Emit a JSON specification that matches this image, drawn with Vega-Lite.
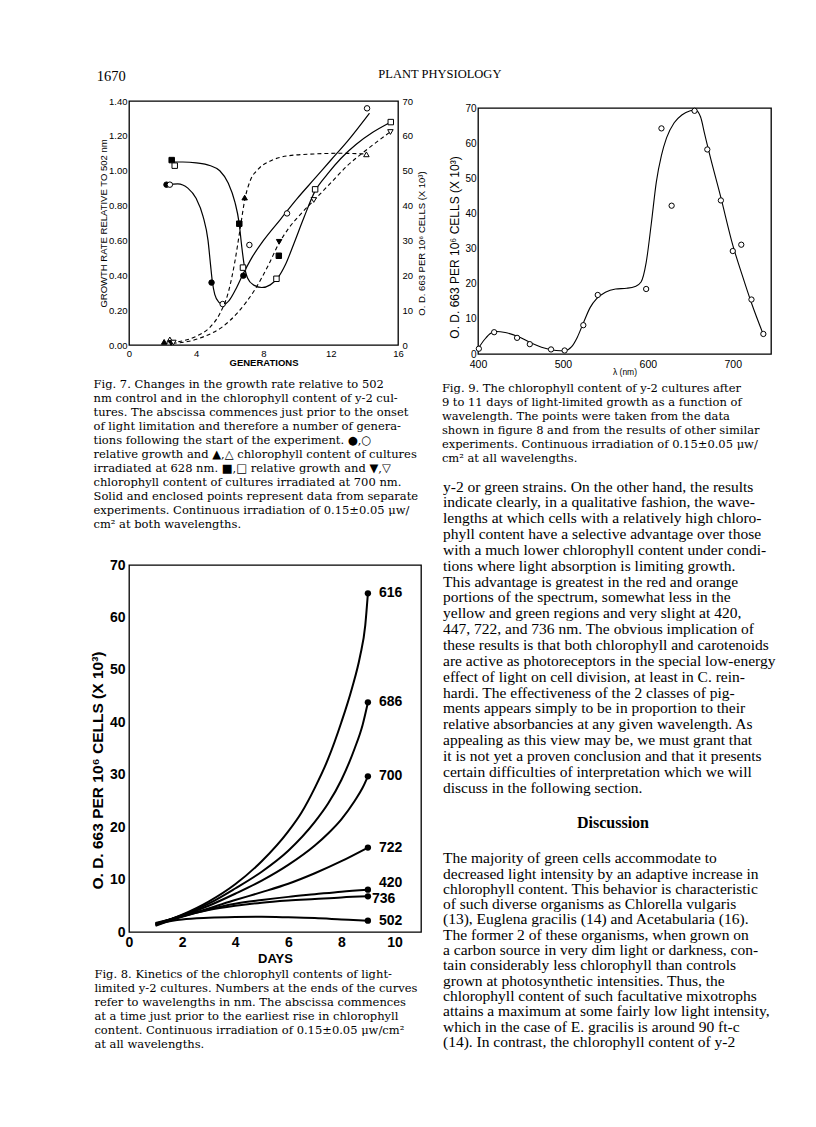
{
  "$schema": "https://vega.github.io/schema/vega-lite/v6.json",
  "background": "white",
  "padding": {"top": 68, "left": 89, "right": 5, "bottom": 5},
  "config": {
    "view": {"stroke": "black", "strokeWidth": 1.3},
    "axis": {"grid": false, "domain": false, "ticks": false, "labelOverlap": false, "labelFlush": false, "labelColor": "black", "titleColor": "black", "labelPadding": 2, "titlePadding": 2},
    "title": {"color": "black"}
  },
  "title": {"text": "PLANT PHYSIOLOGY", "anchor": "middle", "frame": "bounds", "dx": -6.5, "offset": -12, "font": "Liberation Serif", "fontSize": 12.5, "fontWeight": "normal"},
  "datasets": {
    "f7gc": [
      {"wl": "628", "gen": 2.25, "rate": 0.92}, {"wl": "628", "gen": 2.9, "rate": 0.925}, {"wl": "628", "gen": 3.5, "rate": 0.9}, {"wl": "628", "gen": 4.0, "rate": 0.84}, {"wl": "628", "gen": 4.4, "rate": 0.74}, {"wl": "628", "gen": 4.7, "rate": 0.6}, {"wl": "628", "gen": 4.85, "rate": 0.46}, {"wl": "628", "gen": 4.95, "rate": 0.37}, {"wl": "628", "gen": 5.1, "rate": 0.29}, {"wl": "628", "gen": 5.35, "rate": 0.245}, {"wl": "628", "gen": 5.6, "rate": 0.232}, {"wl": "628", "gen": 5.95, "rate": 0.255}, {"wl": "628", "gen": 6.35, "rate": 0.32}, {"wl": "628", "gen": 6.8, "rate": 0.41}, {"wl": "628", "gen": 7.3, "rate": 0.5}, {"wl": "628", "gen": 8.0, "rate": 0.6}, {"wl": "628", "gen": 9.0, "rate": 0.72}, {"wl": "628", "gen": 10.0, "rate": 0.84}, {"wl": "628", "gen": 11.0, "rate": 0.95}, {"wl": "628", "gen": 12.0, "rate": 1.06}, {"wl": "628", "gen": 13.0, "rate": 1.17}, {"wl": "628", "gen": 14.3, "rate": 1.33},
      {"wl": "700", "gen": 2.55, "rate": 1.05}, {"wl": "700", "gen": 3.2, "rate": 1.05}, {"wl": "700", "gen": 4.0, "rate": 1.045}, {"wl": "700", "gen": 4.8, "rate": 1.03}, {"wl": "700", "gen": 5.4, "rate": 1.0}, {"wl": "700", "gen": 5.9, "rate": 0.93}, {"wl": "700", "gen": 6.3, "rate": 0.82}, {"wl": "700", "gen": 6.55, "rate": 0.7}, {"wl": "700", "gen": 6.7, "rate": 0.57}, {"wl": "700", "gen": 6.85, "rate": 0.46}, {"wl": "700", "gen": 7.05, "rate": 0.385}, {"wl": "700", "gen": 7.4, "rate": 0.345}, {"wl": "700", "gen": 7.9, "rate": 0.33}, {"wl": "700", "gen": 8.4, "rate": 0.345}, {"wl": "700", "gen": 8.85, "rate": 0.385}, {"wl": "700", "gen": 9.3, "rate": 0.46}, {"wl": "700", "gen": 9.8, "rate": 0.58}, {"wl": "700", "gen": 10.4, "rate": 0.73}, {"wl": "700", "gen": 11.05, "rate": 0.88}, {"wl": "700", "gen": 11.8, "rate": 0.98}, {"wl": "700", "gen": 12.6, "rate": 1.07}, {"wl": "700", "gen": 13.5, "rate": 1.15}, {"wl": "700", "gen": 14.5, "rate": 1.22}, {"wl": "700", "gen": 15.5, "rate": 1.275}
    ],
    "f7cc": [
      {"wl": "628", "gen": 2.1, "od": 0.5}, {"wl": "628", "gen": 3.0, "od": 1}, {"wl": "628", "gen": 4.0, "od": 2.5}, {"wl": "628", "gen": 4.8, "od": 5}, {"wl": "628", "gen": 5.4, "od": 9}, {"wl": "628", "gen": 5.9, "od": 15}, {"wl": "628", "gen": 6.3, "od": 24}, {"wl": "628", "gen": 6.6, "od": 33}, {"wl": "628", "gen": 6.9, "od": 42}, {"wl": "628", "gen": 7.2, "od": 47}, {"wl": "628", "gen": 7.7, "od": 50.5}, {"wl": "628", "gen": 8.5, "od": 53}, {"wl": "628", "gen": 9.5, "od": 54.3}, {"wl": "628", "gen": 11.0, "od": 54.8}, {"wl": "628", "gen": 12.5, "od": 55}, {"wl": "628", "gen": 14.1, "od": 54.8},
      {"wl": "700", "gen": 2.6, "od": 0.5}, {"wl": "700", "gen": 3.5, "od": 1}, {"wl": "700", "gen": 4.5, "od": 2.5}, {"wl": "700", "gen": 5.5, "od": 5}, {"wl": "700", "gen": 6.5, "od": 9.5}, {"wl": "700", "gen": 7.5, "od": 16}, {"wl": "700", "gen": 8.3, "od": 23}, {"wl": "700", "gen": 8.9, "od": 29}, {"wl": "700", "gen": 9.5, "od": 33.5}, {"wl": "700", "gen": 10.2, "od": 37.5}, {"wl": "700", "gen": 11.0, "od": 41.5}, {"wl": "700", "gen": 12.0, "od": 46.5}, {"wl": "700", "gen": 13.0, "od": 51.5}, {"wl": "700", "gen": 14.0, "od": 55.5}, {"wl": "700", "gen": 15.5, "od": 61}
    ],
    "f7gp": [
      {"wl": "628", "exp": "solid", "gen": 2.23, "rate": 0.92}, {"wl": "628", "exp": "solid", "gen": 4.91, "rate": 0.358}, {"wl": "628", "exp": "solid", "gen": 6.8, "rate": 0.398},
      {"wl": "628", "exp": "open", "gen": 2.43, "rate": 0.92}, {"wl": "628", "exp": "open", "gen": 5.57, "rate": 0.235}, {"wl": "628", "exp": "open", "gen": 7.16, "rate": 0.574}, {"wl": "628", "exp": "open", "gen": 9.4, "rate": 0.755}, {"wl": "628", "exp": "open", "gen": 14.16, "rate": 1.358},
      {"wl": "700", "exp": "solid", "gen": 2.54, "rate": 1.061}, {"wl": "700", "exp": "solid", "gen": 6.56, "rate": 0.696}, {"wl": "700", "exp": "solid", "gen": 8.91, "rate": 0.512},
      {"wl": "700", "exp": "open", "gen": 2.72, "rate": 1.029}, {"wl": "700", "exp": "open", "gen": 6.78, "rate": 0.444}, {"wl": "700", "exp": "open", "gen": 8.77, "rate": 0.38}, {"wl": "700", "exp": "open", "gen": 11.07, "rate": 0.893}, {"wl": "700", "exp": "open", "gen": 15.57, "rate": 1.279}
    ],
    "f7cp": [
      {"wl": "628", "exp": "solid", "gen": 2.09, "od": 0.9}, {"wl": "628", "exp": "solid", "gen": 6.88, "od": 42.3},
      {"wl": "628", "exp": "open", "gen": 2.43, "od": 1.6}, {"wl": "628", "exp": "open", "gen": 14.12, "od": 54.7},
      {"wl": "700", "exp": "solid", "gen": 2.5, "od": 0.6}, {"wl": "700", "exp": "solid", "gen": 8.93, "od": 29.6},
      {"wl": "700", "exp": "open", "gen": 2.64, "od": 0.7}, {"wl": "700", "exp": "open", "gen": 10.99, "od": 41.6}, {"wl": "700", "exp": "open", "gen": 15.55, "od": 61.1}
    ],
    "f9c": [
      {"nm": 400, "od": 1.5}, {"nm": 408, "od": 4.2}, {"nm": 415, "od": 5.9}, {"nm": 422, "od": 6.4}, {"nm": 432, "od": 6.1}, {"nm": 447, "od": 5.0}, {"nm": 462, "od": 3.2}, {"nm": 478, "od": 1.7}, {"nm": 492, "od": 1.0}, {"nm": 502, "od": 0.9}, {"nm": 510, "od": 2.0}, {"nm": 517, "od": 4.8}, {"nm": 524, "od": 8.8}, {"nm": 532, "od": 13.2}, {"nm": 540, "od": 15.8}, {"nm": 550, "od": 17.6}, {"nm": 562, "od": 18.5}, {"nm": 575, "od": 18.7}, {"nm": 585, "od": 19.2}, {"nm": 592, "od": 20.5}, {"nm": 598, "od": 26}, {"nm": 604, "od": 37}, {"nm": 610, "od": 49}, {"nm": 616, "od": 56.5}, {"nm": 622, "od": 61.5}, {"nm": 631, "od": 65.8}, {"nm": 640, "od": 68}, {"nm": 650, "od": 69.2}, {"nm": 656, "od": 69.4}, {"nm": 662, "od": 67.5}, {"nm": 667, "od": 62.5}, {"nm": 672, "od": 57.5}, {"nm": 686, "od": 44.5}, {"nm": 700, "od": 31}, {"nm": 711, "od": 22.5}, {"nm": 722, "od": 14.5}, {"nm": 736, "od": 5.5}
    ],
    "f9p": [
      {"nm": 401, "od": 1.5}, {"nm": 419, "od": 6.2}, {"nm": 446, "od": 4.6}, {"nm": 461, "od": 2.8}, {"nm": 486, "od": 1.3}, {"nm": 502, "od": 1.0}, {"nm": 524, "od": 8.2}, {"nm": 541, "od": 16.8}, {"nm": 598, "od": 18.5}, {"nm": 616, "od": 64.2}, {"nm": 628, "od": 42.2}, {"nm": 655, "od": 69.2}, {"nm": 670, "od": 58.2}, {"nm": 686, "od": 43.7}, {"nm": 700, "od": 29.3}, {"nm": 710, "od": 31.1}, {"nm": 722, "od": 15.5}, {"nm": 736, "od": 5.7}
    ],
    "f8c": [
      {"wl": "616", "day": 1, "od": 1.4}, {"wl": "616", "day": 2, "od": 3.3}, {"wl": "616", "day": 3, "od": 5.8}, {"wl": "616", "day": 4, "od": 9.1}, {"wl": "616", "day": 5, "od": 13.5}, {"wl": "616", "day": 6, "od": 19.2}, {"wl": "616", "day": 6.5, "od": 22.8}, {"wl": "616", "day": 7, "od": 27.5}, {"wl": "616", "day": 7.5, "od": 33}, {"wl": "616", "day": 8, "od": 40}, {"wl": "616", "day": 8.4, "od": 46.5}, {"wl": "616", "day": 8.7, "od": 52.5}, {"wl": "616", "day": 8.9, "od": 58.5}, {"wl": "616", "day": 9, "od": 64.6},
      {"wl": "686", "day": 1, "od": 1.5}, {"wl": "686", "day": 2, "od": 3.2}, {"wl": "686", "day": 3, "od": 5.4}, {"wl": "686", "day": 4, "od": 8.3}, {"wl": "686", "day": 5, "od": 11.5}, {"wl": "686", "day": 6, "od": 15.5}, {"wl": "686", "day": 7, "od": 21}, {"wl": "686", "day": 7.5, "od": 24.5}, {"wl": "686", "day": 8, "od": 29}, {"wl": "686", "day": 8.5, "od": 35}, {"wl": "686", "day": 8.8, "od": 39.5}, {"wl": "686", "day": 9, "od": 43.8},
      {"wl": "700", "day": 1, "od": 1.6}, {"wl": "700", "day": 2, "od": 3.1}, {"wl": "700", "day": 3, "od": 5}, {"wl": "700", "day": 4, "od": 7.3}, {"wl": "700", "day": 5, "od": 9.8}, {"wl": "700", "day": 6, "od": 12.8}, {"wl": "700", "day": 7, "od": 16.5}, {"wl": "700", "day": 7.5, "od": 18.8}, {"wl": "700", "day": 8, "od": 21.5}, {"wl": "700", "day": 8.5, "od": 25}, {"wl": "700", "day": 8.8, "od": 27.5}, {"wl": "700", "day": 9, "od": 29.7},
      {"wl": "722", "day": 1, "od": 1.7}, {"wl": "722", "day": 2, "od": 3}, {"wl": "722", "day": 3, "od": 4.5}, {"wl": "722", "day": 4, "od": 6.1}, {"wl": "722", "day": 5, "od": 7.6}, {"wl": "722", "day": 6, "od": 9.2}, {"wl": "722", "day": 7, "od": 11.2}, {"wl": "722", "day": 8, "od": 13.5}, {"wl": "722", "day": 9, "od": 16.1},
      {"wl": "420", "day": 1, "od": 1.2}, {"wl": "420", "day": 2, "od": 2.9}, {"wl": "420", "day": 3, "od": 4.3}, {"wl": "420", "day": 4, "od": 5.4}, {"wl": "420", "day": 5, "od": 6.1}, {"wl": "420", "day": 6, "od": 6.7}, {"wl": "420", "day": 7, "od": 7.2}, {"wl": "420", "day": 8, "od": 7.7}, {"wl": "420", "day": 9, "od": 8.07},
      {"wl": "736", "day": 1, "od": 1.3}, {"wl": "736", "day": 2, "od": 3}, {"wl": "736", "day": 3, "od": 4.2}, {"wl": "736", "day": 4, "od": 5}, {"wl": "736", "day": 5, "od": 5.6}, {"wl": "736", "day": 6, "od": 6}, {"wl": "736", "day": 7, "od": 6.3}, {"wl": "736", "day": 8, "od": 6.6}, {"wl": "736", "day": 9, "od": 6.8},
      {"wl": "502", "day": 1, "od": 1.6}, {"wl": "502", "day": 2, "od": 2.4}, {"wl": "502", "day": 3, "od": 2.7}, {"wl": "502", "day": 4, "od": 2.85}, {"wl": "502", "day": 5, "od": 2.9}, {"wl": "502", "day": 6, "od": 2.8}, {"wl": "502", "day": 7, "od": 2.65}, {"wl": "502", "day": 8, "od": 2.4}, {"wl": "502", "day": 9, "od": 2.16}
    ],
    "f8e": [
      {"wl": "616", "day": 9, "od": 64.6}, {"wl": "686", "day": 9, "od": 43.8}, {"wl": "700", "day": 9, "od": 29.7}, {"wl": "722", "day": 9, "od": 16.1}, {"wl": "420", "day": 9, "od": 8.07}, {"wl": "736", "day": 9, "od": 6.8}, {"wl": "502", "day": 9, "od": 2.16}
    ]
  },
  "spacing": 14,
  "hconcat": [
    {
      "title": {"text": "1670", "anchor": "start", "dx": 7, "font": "Liberation Serif", "fontSize": 14.5, "fontWeight": "normal", "offset": 11},
      "columns": 1,
      "align": "none",
      "spacing": 25,
      "concat": [
        {
          "width": 269,
          "height": 244,
          "title": {
            "text": [
              "\u2003Fig. 7.  Changes in the growth rate relative to 502",
              "nm control and in the chlorophyll content of y-2 cul-",
              "tures.  The abscissa commences just prior to the onset",
              "of light limitation and therefore a number of genera-",
              "tions following the start of the experiment.  \u25cf,\u25cb",
              "relative growth and \u25b2,\u25b3 chlorophyll content of cultures",
              "irradiated at 628 nm.  \u25a0,\u25a1 relative growth and \u25bc,\u25bd",
              "chlorophyll content of cultures irradiated at 700 nm.",
              "Solid and enclosed points represent data from separate",
              "experiments.  Continuous irradiation of 0.15\u00b10.05 \u03bcw/",
              "cm\u00b2 at both wavelengths."
            ],
            "orient": "bottom", "anchor": "start", "frame": "bounds", "dx": -5, "font": "DejaVu Serif", "fontSize": 11.5, "fontWeight": "normal", "lineHeight": 14, "offset": 12
          },
          "layer": [
            {
              "layer": [
                {
                  "data": {"name": "f7gc"},
                  "mark": {"type": "line", "interpolate": "monotone", "color": "black", "strokeWidth": 1.2},
                  "encoding": {
                    "x": {"field": "gen", "type": "quantitative", "scale": {"domain": [0, 16], "nice": false}, "axis": {"values": [0, 4, 8, 12, 16], "tickCount": 20, "labelOverlap": false, "title": "GENERATIONS", "labelFont": "Liberation Sans", "labelFontSize": 9.5, "labelPadding": 3, "titlePadding": 0, "titleFont": "Liberation Sans", "titleFontSize": 9.5, "titleFontWeight": "bold"}},
                    "y": {"field": "rate", "type": "quantitative", "scale": {"domain": [0, 1.4], "nice": false}, "axis": {"values": [0, 0.2, 0.4, 0.6, 0.8, 1.0, 1.2, 1.4], "tickCount": 20, "labelOverlap": false, "format": ".2f", "title": "GROWTH RATE RELATIVE TO 502 nm", "labelFont": "Liberation Sans", "labelFontSize": 9.5, "titlePadding": 0, "titleFont": "Liberation Sans", "titleFontSize": 9.5, "titleFontWeight": "normal"}},
                    "detail": {"field": "wl", "type": "nominal"}
                  }
                },
                {
                  "data": {"name": "f7gp"},
                  "mark": {"type": "point", "filled": true, "stroke": "black", "strokeWidth": 1, "size": 30, "opacity": 1},
                  "encoding": {
                    "x": {"field": "gen", "type": "quantitative"},
                    "y": {"field": "rate", "type": "quantitative"},
                    "shape": {"field": "wl", "type": "nominal", "scale": {"domain": ["628", "700"], "range": ["circle", "square"]}, "legend": null},
                    "fill": {"field": "exp", "type": "nominal", "scale": {"domain": ["solid", "open"], "range": ["black", "white"]}, "legend": null}
                  }
                }
              ]
            },
            {
              "layer": [
                {
                  "data": {"name": "f7cc"},
                  "mark": {"type": "line", "interpolate": "monotone", "color": "black", "strokeWidth": 1.1, "strokeDash": [4, 3]},
                  "encoding": {
                    "x": {"field": "gen", "type": "quantitative"},
                    "y": {"field": "od", "type": "quantitative", "scale": {"domain": [0, 70], "nice": false}, "axis": {"orient": "right", "values": [0, 10, 20, 30, 40, 50, 60, 70], "tickCount": 20, "labelOverlap": false, "labelPadding": 4, "title": "O. D. 663 PER 10\u2076 CELLS (X 10\u00b3)", "titleAngle": 270, "titleBaseline": "top", "titlePadding": 4, "titleY": 142, "labelFont": "Liberation Sans", "labelFontSize": 9.5, "titleFont": "Liberation Sans", "titleFontSize": 9.5, "titleFontWeight": "normal"}},
                    "detail": {"field": "wl", "type": "nominal"}
                  }
                },
                {
                  "data": {"name": "f7cp"},
                  "mark": {"type": "point", "filled": true, "stroke": "black", "strokeWidth": 1, "size": 30, "opacity": 1},
                  "encoding": {
                    "x": {"field": "gen", "type": "quantitative"},
                    "y": {"field": "od", "type": "quantitative"},
                    "shape": {"field": "wl", "type": "nominal", "scale": {"domain": ["628", "700"], "range": ["triangle-up", "triangle-down"]}, "legend": null},
                    "fill": {"field": "exp", "type": "nominal", "scale": {"domain": ["solid", "open"], "range": ["black", "white"]}, "legend": null}
                  }
                }
              ]
            }
          ],
          "resolve": {"scale": {"y": "independent", "shape": "independent"}}
        },
        {
          "width": 292,
          "height": 367,
          "title": {
            "text": [
              "\u2003Fig. 8.  Kinetics of the chlorophyll contents of light-",
              "limited y-2 cultures.  Numbers at the ends of the curves",
              "refer to wavelengths in nm.  The abscissa commences",
              "at a time just prior to the earliest rise in chlorophyll",
              "content.  Continuous irradiation of 0.15\u00b10.05 \u03bcw/cm\u00b2",
              "at all wavelengths."
            ],
            "orient": "bottom", "anchor": "start", "frame": "bounds", "dx": 4, "font": "DejaVu Serif", "fontSize": 11.5, "fontWeight": "normal", "lineHeight": 14, "offset": 4
          },
          "encoding": {
            "x": {"field": "day", "type": "quantitative", "scale": {"domain": [0, 11], "nice": false}, "axis": {"values": [0, 2, 4, 6, 8, 10], "labelOverlap": false, "title": "DAYS", "labelFont": "Liberation Sans", "labelFontSize": 14, "labelFontWeight": "bold", "labelPadding": 3, "titleFont": "Liberation Sans", "titleFontSize": 13, "titleFontWeight": "bold", "titlePadding": 3}},
            "y": {"field": "od", "type": "quantitative", "scale": {"domain": [0, 70], "nice": false}, "axis": {"values": [0, 10, 20, 30, 40, 50, 60, 70], "labelOverlap": false, "title": "O. D. 663 PER 10\u2076 CELLS (X 10\u00b3)", "titleY": 205, "labelFont": "Liberation Sans", "labelFontSize": 14, "labelFontWeight": "bold", "labelPadding": 4, "titleFont": "Liberation Sans", "titleFontSize": 15.5, "titleFontWeight": "bold", "titlePadding": 4}}
          },
          "layer": [
            {"data": {"name": "f8c"}, "mark": {"type": "line", "interpolate": "monotone", "color": "black", "strokeWidth": 2}, "encoding": {"detail": {"field": "wl", "type": "nominal"}}},
            {"data": {"name": "f8e"}, "mark": {"type": "point", "filled": true, "color": "black", "size": 40, "opacity": 1}},
            {"data": {"name": "f8e"}, "transform": [{"filter": "datum.wl != '420' && datum.wl != '736'"}], "mark": {"type": "text", "align": "left", "baseline": "middle", "dx": 11, "font": "Liberation Sans", "fontSize": 14, "fontWeight": "bold", "color": "black"}, "encoding": {"text": {"field": "wl"}}},
            {"data": {"name": "f8e"}, "transform": [{"filter": "datum.wl == '420'"}], "mark": {"type": "text", "align": "left", "baseline": "middle", "dx": 11, "dy": -7, "font": "Liberation Sans", "fontSize": 14, "fontWeight": "bold", "color": "black"}, "encoding": {"text": {"field": "wl"}}},
            {"data": {"name": "f8e"}, "transform": [{"filter": "datum.wl == '736'"}], "mark": {"type": "text", "align": "left", "baseline": "middle", "dx": 4, "dy": 3, "font": "Liberation Sans", "fontSize": 14, "fontWeight": "bold", "color": "black"}, "encoding": {"text": {"field": "wl"}}}
          ]
        }
      ]
    },
    {
      "columns": 1,
      "align": "none",
      "spacing": 0,
      "concat": [
        {
          "width": 1,
          "height": 1,
          "view": {"stroke": null},
          "data": {"values": []},
          "mark": {"type": "text"},
          "encoding": {}
        },
        {
          "width": 293,
          "height": 246,
          "title": {
            "text": [
              "\u2003Fig. 9.  The chlorophyll content of y-2 cultures after",
              "9 to 11 days of light-limited growth as a function of",
              "wavelength.  The points were taken from the data",
              "shown in figure 8 and from the results of other similar",
              "experiments.  Continuous irradiation of 0.15\u00b10.05 \u03bcw/",
              "cm\u00b2 at all wavelengths."
            ],
            "orient": "bottom", "anchor": "start", "frame": "bounds", "dx": -6.5, "font": "DejaVu Serif", "fontSize": 11.5, "fontWeight": "normal", "lineHeight": 14, "offset": 7
          },
          "encoding": {
            "x": {"field": "nm", "type": "quantitative", "scale": {"domain": [400, 745], "nice": false, "zero": false}, "axis": {"values": [400, 500, 600, 700], "labelOverlap": false, "title": "\u03bb (nm)", "labelFont": "Liberation Sans", "labelFontSize": 10.5, "labelPadding": 5, "titleFont": "Liberation Sans", "titleFontSize": 8.5, "titleFontWeight": "normal", "titlePadding": -2}},
            "y": {"field": "od", "type": "quantitative", "scale": {"domain": [0, 70], "nice": false}, "axis": {"values": [0, 10, 20, 30, 40, 50, 60, 70], "labelOverlap": false, "title": "O. D. 663 PER 10\u2076 CELLS (X 10\u00b3)", "titleY": 139, "labelFont": "Liberation Sans", "labelFontSize": 10, "titleFont": "Liberation Sans", "titleFontSize": 12, "titleFontWeight": "normal", "titlePadding": 3.5}}
          },
          "layer": [
            {"data": {"name": "f9c"}, "mark": {"type": "line", "interpolate": "monotone", "color": "black", "strokeWidth": 1.1}},
            {"data": {"name": "f9p"}, "mark": {"type": "point", "filled": false, "color": "black", "fill": "white", "strokeWidth": 1, "size": 28, "opacity": 1}}
          ]
        },
        {
          "width": 325,
          "height": 1,
          "view": {"stroke": null},
          "data": {"values": []},
          "mark": {"type": "text"},
          "encoding": {},
          "title": {
            "text": [
              "y-2 or green strains.  On the other hand, the results",
              "indicate clearly, in a qualitative fashion, the wave-",
              "lengths at which cells with a relatively high chloro-",
              "phyll content have a selective advantage over those",
              "with a much lower chlorophyll content under condi-",
              "tions where light absorption is limiting growth.",
              "This advantage is greatest in the red and orange",
              "portions of the spectrum, somewhat less in the",
              "yellow and green regions and very slight at 420,",
              "447, 722, and 736 nm.  The obvious implication of",
              "these results is that both chlorophyll and carotenoids",
              "are active as photoreceptors in the special low-energy",
              "effect of light on cell division, at least in C. rein-",
              "hardi.  The effectiveness of the 2 classes of pig-",
              "ments appears simply to be in proportion to their",
              "relative absorbancies at any given wavelength.  As",
              "appealing as this view may be, we must grant that",
              "it is not yet a proven conclusion and that it presents",
              "certain difficulties of interpretation which we will",
              "discuss in the following section."
            ],
            "orient": "bottom", "anchor": "start", "frame": "group", "dx": -35, "font": "Liberation Serif", "fontSize": 15.5, "fontWeight": "normal", "lineHeight": 15.85, "offset": 12.5
          }
        },
        {
          "width": 325,
          "height": 1,
          "view": {"stroke": null},
          "data": {"values": []},
          "mark": {"type": "text"},
          "encoding": {},
          "title": {"text": "Discussion", "orient": "bottom", "anchor": "middle", "frame": "group", "dx": -27.5, "font": "Liberation Serif", "fontSize": 16, "fontWeight": "bold", "offset": 17}
        },
        {
          "width": 325,
          "height": 1,
          "view": {"stroke": null},
          "data": {"values": []},
          "mark": {"type": "text"},
          "encoding": {},
          "title": {
            "text": [
              "\u2003The majority of green cells accommodate to",
              "decreased light intensity by an adaptive increase in",
              "chlorophyll content.  This behavior is characteristic",
              "of such diverse organisms as Chlorella vulgaris",
              "(13), Euglena gracilis (14) and Acetabularia (16).",
              "The former 2 of these organisms, when grown on",
              "a carbon source in very dim light or darkness, con-",
              "tain considerably less chlorophyll than controls",
              "grown at photosynthetic intensities.  Thus, the",
              "chlorophyll content of such facultative mixotrophs",
              "attains a maximum at some fairly low light intensity,",
              "which in the case of E. gracilis is around 90 ft-c",
              "(14).  In contrast, the chlorophyll content of y-2"
            ],
            "orient": "bottom", "anchor": "start", "frame": "group", "dx": -35, "font": "Liberation Serif", "fontSize": 15.5, "fontWeight": "normal", "lineHeight": 15.3, "offset": 19.3
          }
        }
      ]
    }
  ]
}
